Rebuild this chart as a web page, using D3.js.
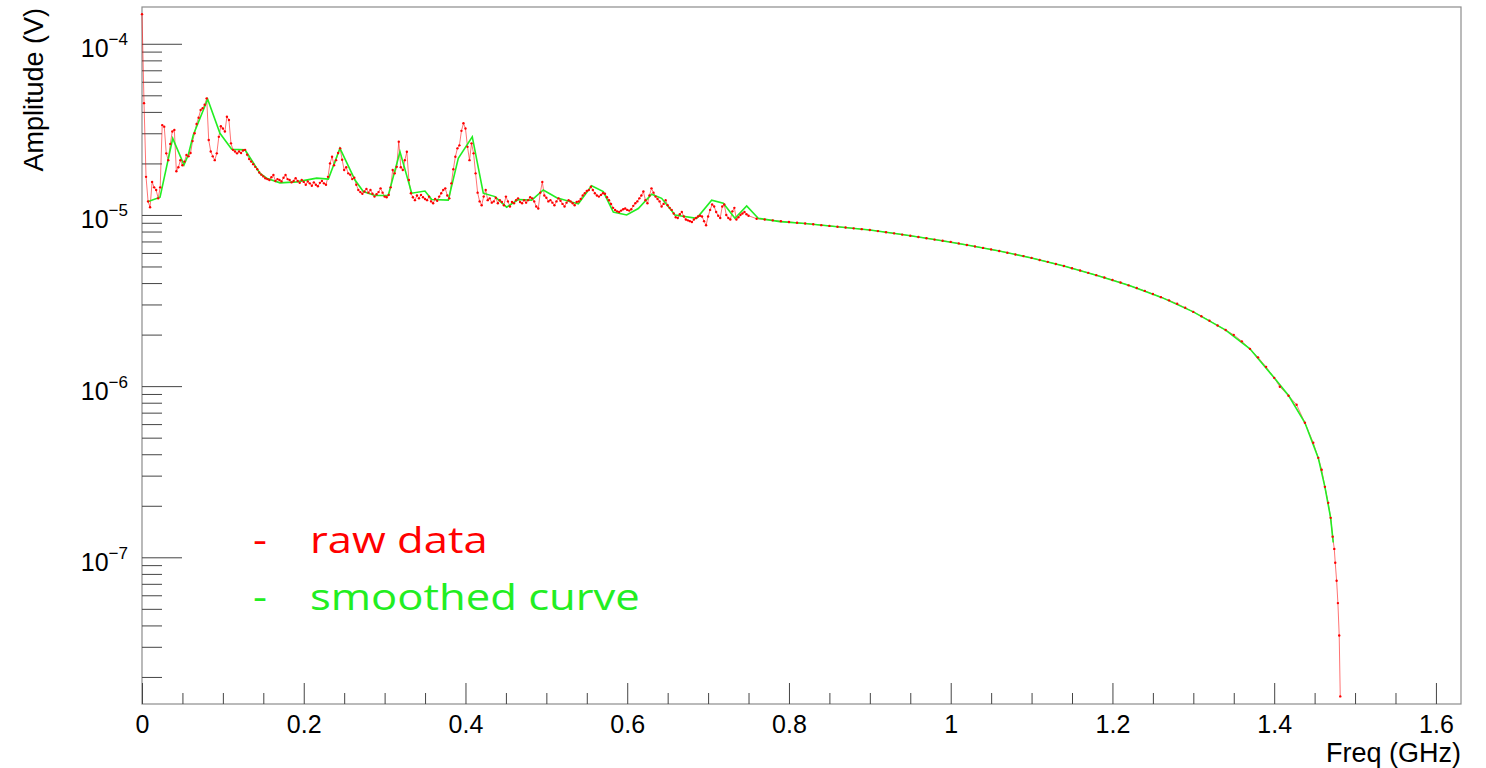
<!DOCTYPE html>
<html>
<head>
<meta charset="utf-8">
<script src="https://cdn.jsdelivr.net/npm/d3@7"></script>
<style>
  html, body { margin: 0; padding: 0; background: #fff; }
  svg { display: block; }
</style>
</head>
<body>
<svg id="chart" width="1486" height="768"></svg>
<script>
// Amplitudes below are given in units of 10 µV.
const AMP_UNIT = 1e-5;

// Raw spectrum, low band: uniform bins starting at 0 GHz.
const rawLowStartGHz = 0;
const rawLowStepGHz = 0.0025;
const rawLowAmp = [
  14.9, 4.5, 1.67, 1.2, 1.11, 1.56, 1.45, 1.40, 1.25, 1.45,
  3.35, 3.28, 2.29, 2.09, 2.6, 3.07, 3.14, 1.8, 1.9, 2.09,
  1.95, 2.05, 2.24, 2.2, 2.3, 2.7, 3.0, 3.4, 3.7, 4.1,
  4.2, 4.4, 4.8, 2.74, 2.35, 2.2, 2.09, 2.29, 2.86, 3.3,
  3.2, 3.07, 3.75, 3.59, 2.62, 2.4, 2.35, 2.29, 2.35, 2.3,
  2.38, 2.4, 2.25, 2.12, 2.05, 1.98, 1.91, 1.85, 1.77, 1.72,
  1.68, 1.64, 1.62, 1.6, 1.66, 1.71, 1.58, 1.62, 1.6, 1.57,
  1.65, 1.71, 1.62, 1.6, 1.55, 1.58, 1.64, 1.58, 1.54, 1.6,
  1.56, 1.5, 1.57, 1.53, 1.48, 1.55, 1.5, 1.47, 1.54, 1.58,
  1.53, 1.5, 1.67, 2.0, 2.19, 1.95, 2.09, 2.3, 2.45, 2.1,
  1.83, 1.9, 1.75, 1.72, 1.62, 1.65, 1.5, 1.4, 1.36, 1.33,
  1.37, 1.42, 1.35, 1.4, 1.33, 1.28, 1.32, 1.36, 1.43, 1.35,
  1.28, 1.27, 1.31, 1.45, 1.83, 1.75, 1.91, 2.68, 1.9, 1.83,
  2.09, 2.34, 1.6, 1.34, 1.27, 1.22, 1.3, 1.25, 1.31, 1.27,
  1.24, 1.22, 1.28, 1.2, 1.17, 1.24, 1.21, 1.28, 1.34, 1.4,
  1.43, 1.3, 1.25, 1.53, 1.85, 2.19, 2.45, 2.55, 3.1, 3.43,
  3.2, 2.5, 2.09, 2.62, 2.29, 1.75, 1.35, 1.2, 1.14, 1.28,
  1.4, 1.22, 1.25, 1.18, 1.2, 1.26, 1.17, 1.22, 1.19, 1.14,
  1.28, 1.2, 1.12, 1.19, 1.17, 1.22, 1.25, 1.19, 1.17, 1.22,
  1.18, 1.22, 1.27, 1.25, 1.2, 1.12, 1.09, 1.35, 1.56, 1.3,
  1.26, 1.2, 1.22, 1.18, 1.14, 1.2, 1.25, 1.21, 1.16, 1.12,
  1.18, 1.22, 1.2, 1.17, 1.14, 1.19, 1.2, 1.24, 1.3, 1.34,
  1.38, 1.4, 1.46, 1.4, 1.34, 1.3, 1.28, 1.31, 1.34, 1.33,
  1.27, 1.22, 1.16, 1.1, 1.07, 1.05, 1.04, 1.06, 1.08, 1.09,
  1.07, 1.06, 1.08, 1.13, 1.17, 1.2, 1.25, 1.3, 1.37, 1.22,
  1.17, 1.3, 1.43, 1.35, 1.28, 1.24, 1.2, 1.12, 1.16, 1.22,
  1.14, 1.1, 1.07, 1.02, 0.97, 0.96, 1.01, 1.04, 0.98, 0.94,
  0.93, 0.92, 0.91, 0.94, 0.96, 0.98, 0.99, 0.98, 0.92, 0.87,
  0.98, 1.07, 1.15, 1.12, 1.04, 0.99, 0.96, 1.12, 1.15, 1.0,
  0.96, 0.94, 1.05, 1.1, 0.94, 0.97, 1.0, 1.02, 1.04, 1.01,
  0.99
];

// Raw spectrum, high band (roll-off), explicit bins.
const rawHighFreq = [
  0.76, 0.77, 0.78, 0.79, 0.80, 0.81, 0.82, 0.83, 0.84, 0.85,
  0.86, 0.87, 0.88, 0.89, 0.90, 0.91, 0.92, 0.93, 0.94, 0.95,
  0.96, 0.97, 0.98, 0.99, 1.00, 1.01, 1.02, 1.03, 1.04, 1.05,
  1.06, 1.07, 1.08, 1.09, 1.10, 1.11, 1.12, 1.13, 1.14, 1.15,
  1.16, 1.17, 1.18, 1.19, 1.20, 1.21, 1.22, 1.23, 1.24, 1.25,
  1.26, 1.27, 1.28, 1.29, 1.30, 1.31, 1.32, 1.33, 1.34, 1.35,
  1.36, 1.37, 1.38, 1.39, 1.40,
  1.407, 1.4177, 1.4277, 1.438, 1.4483, 1.4545, 1.4587, 1.4627,
  1.4668, 1.4698, 1.4723, 1.4743, 1.4755, 1.4772, 1.4788, 1.4804, 1.4817
];
const rawHighAmp = [
  0.950, 0.940, 0.930, 0.920, 0.910, 0.900, 0.891, 0.882, 0.872, 0.863,
  0.853, 0.844, 0.835, 0.826, 0.817, 0.805, 0.793, 0.781, 0.768, 0.756,
  0.744, 0.731, 0.718, 0.707, 0.696, 0.682, 0.668, 0.655, 0.642, 0.629,
  0.616, 0.602, 0.588, 0.575, 0.561, 0.546, 0.532, 0.517, 0.503, 0.488,
  0.474, 0.459, 0.445, 0.431, 0.417, 0.403, 0.388, 0.374, 0.360, 0.345,
  0.331, 0.317, 0.303, 0.287, 0.2715, 0.256, 0.241, 0.226, 0.2126, 0.1993,
  0.1826, 0.1651, 0.1473, 0.1296, 0.1118,
  0.0991, 0.0878, 0.0778, 0.0611, 0.0467, 0.0381, 0.0325, 0.0258,
  0.0208, 0.0170, 0.0132, 0.0112, 0.0093, 0.0073, 0.0054, 0.00349, 0.00154
];

// Smoothed curve vertices.
const smoothFreq = [
  0.0078, 0.0223, 0.038, 0.0519, 0.0572, 0.0634, 0.0812, 0.0964, 0.1109, 0.1274,
  0.1459, 0.1542, 0.1706, 0.1913, 0.216, 0.2304, 0.2448, 0.2634, 0.2736, 0.2881,
  0.3045, 0.319, 0.3335, 0.3499, 0.3582, 0.3787, 0.3911, 0.4084, 0.422, 0.4365,
  0.4509, 0.4653, 0.4819, 0.4962, 0.5128, 0.5395, 0.556, 0.5704, 0.5828, 0.5993,
  0.6137, 0.6302, 0.6426, 0.6591, 0.6859, 0.7044, 0.7188, 0.7332, 0.7477, 0.762,
  0.7889, 0.82, 0.86, 0.90, 0.94, 0.98, 1.02, 1.06, 1.10, 1.14,
  1.18, 1.22, 1.26, 1.30, 1.34, 1.37, 1.40, 1.418, 1.438, 1.4545,
  1.4627, 1.4698, 1.473
];
const smoothAmp = [
  1.2, 1.27, 2.8, 1.96, 2.24, 2.93, 4.74, 3.0, 2.42, 2.4,
  1.75, 1.64, 1.54, 1.56, 1.64, 1.62, 2.45, 1.6, 1.37, 1.30,
  1.30, 2.34, 1.34, 1.38, 1.23, 1.22, 2.14, 2.86, 1.34, 1.28,
  1.11, 1.23, 1.22, 1.4, 1.26, 1.16, 1.48, 1.37, 1.04, 1.0,
  1.09, 1.32, 1.25, 1.0, 0.956, 1.22, 1.17, 0.956, 1.13, 0.956,
  0.914, 0.891, 0.853, 0.817, 0.768, 0.718, 0.668, 0.616, 0.561, 0.503,
  0.445, 0.388, 0.331, 0.2715, 0.2126, 0.1651, 0.1118, 0.0878, 0.0611, 0.0381,
  0.0258, 0.0170, 0.0122
];

// Axis ticks and labels.
const xMajorTicks = [0, 0.2, 0.4, 0.6, 0.8, 1.0, 1.2, 1.4, 1.6];
const xMinorTicks = [0.05, 0.1, 0.15, 0.25, 0.3, 0.35, 0.45, 0.5, 0.55, 0.65, 0.7, 0.75,
                     0.85, 0.9, 0.95, 1.05, 1.1, 1.15, 1.25, 1.3, 1.35, 1.45, 1.5, 1.55];
const xTickLabels = ["0", "0.2", "0.4", "0.6", "0.8", "1", "1.2", "1.4", "1.6"];
const yDecadeExponents = [-7, -6, -5, -4];
const yMinorMantissas = [2, 3, 4, 5, 6, 7, 8, 9];
const xTitle = "Freq (GHz)";
const yTitle = "Amplitude (V)";
const legendLabels = ["raw data", "smoothed curve"];

// ---- layout ----
const frame = { left: 142, right: 1461, top: 7, bottom: 704 };
const RED = "#ff0000";
const GREEN = "#22ee22";
const AXIS_FONT = "'Liberation Sans', Arial, Helvetica, sans-serif";

const svg = d3.select("#chart");

const x = d3.scaleLinear().domain([0, 1.631]).range([frame.left, frame.right]);
const y = d3.scaleLog().domain([1.39e-8, 1.64e-4]).range([frame.bottom, frame.top]);

// Assemble the raw series.
const raw = rawLowAmp.map((a, i) => ({ f: rawLowStartGHz + i * rawLowStepGHz, v: a * AMP_UNIT }))
  .concat(rawHighFreq.map((f, i) => ({ f, v: rawHighAmp[i] * AMP_UNIT })));
const smooth = smoothFreq.map((f, i) => ({ f, v: smoothAmp[i] * AMP_UNIT }));

// Frame
svg.append("rect")
  .attr("x", frame.left).attr("y", frame.top)
  .attr("width", frame.right - frame.left).attr("height", frame.bottom - frame.top)
  .attr("fill", "none").attr("stroke", "#8c8c8c").attr("stroke-width", 1.2);

// X axis: major and minor ticks pointing into the frame
const xAxisMajor = d3.axisBottom(x)
  .tickValues(xMajorTicks)
  .tickSizeInner(-21).tickSizeOuter(0).tickPadding(11)
  .tickFormat((d, i) => xTickLabels[i]);
const gx = svg.append("g").attr("transform", `translate(0,${frame.bottom})`).call(xAxisMajor);
gx.select(".domain").remove();
gx.selectAll("line").attr("stroke", "#444");
gx.selectAll("text").attr("font-family", AXIS_FONT).attr("font-size", 25).attr("fill", "#000");

const xAxisMinor = d3.axisBottom(x).tickValues(xMinorTicks).tickSizeInner(-11).tickSizeOuter(0).tickFormat("");
const gxm = svg.append("g").attr("transform", `translate(0,${frame.bottom})`).call(xAxisMinor);
gxm.select(".domain").remove();
gxm.selectAll("line").attr("stroke", "#444");

// Y axis: decades with superscript labels, minor ticks at 2..9
const yMajorValues = yDecadeExponents.map(e => Math.pow(10, e));
const yMinorValues = [];
[-8, -7, -6, -5, -4].forEach(e => yMinorMantissas.forEach(m => {
  const v = m * Math.pow(10, e);
  if (v > y.domain()[0] && v < y.domain()[1]) yMinorValues.push(v);
}));

const yAxisMajor = d3.axisLeft(y).tickValues(yMajorValues).tickSizeInner(-40).tickSizeOuter(0).tickFormat("");
const gy = svg.append("g").attr("transform", `translate(${frame.left},0)`).call(yAxisMajor);
gy.select(".domain").remove();
gy.selectAll("line").attr("stroke", "#444");
gy.selectAll(".tick").each(function (d, i) {
  const t = d3.select(this).append("text")
    .attr("x", -38).attr("y", 13)
    .attr("text-anchor", "end")
    .attr("font-family", AXIS_FONT).attr("fill", "#000");
  t.append("tspan").attr("font-size", 25).text("10");
  t.append("tspan").attr("font-size", 17).attr("dy", -12).text("\u2212" + Math.abs(yDecadeExponents[i]));
});
gy.selectAll(".tick text").attr("x", null).attr("dy", null)
  .attr("transform", "translate(-14,0)").attr("text-anchor", "end");

const yAxisMinor = d3.axisLeft(y).tickValues(yMinorValues).tickSizeInner(-20).tickSizeOuter(0).tickFormat("");
const gym = svg.append("g").attr("transform", `translate(${frame.left},0)`).call(yAxisMinor);
gym.select(".domain").remove();
gym.selectAll("line").attr("stroke", "#444");

// Axis titles
svg.append("text")
  .attr("x", frame.right).attr("y", 762)
  .attr("text-anchor", "end")
  .attr("font-family", AXIS_FONT).attr("font-size", 27)
  .text(xTitle);
svg.append("text")
  .attr("transform", "translate(43,8) rotate(-90)")
  .attr("text-anchor", "end")
  .attr("font-family", AXIS_FONT).attr("font-size", 27)
  .text(yTitle);

// Data
const plot = svg.append("g");
const line = d3.line().x(d => x(d.f)).y(d => y(d.v));

plot.append("path").datum(raw)
  .attr("d", line).attr("fill", "none")
  .attr("stroke", RED).attr("stroke-width", 1).attr("stroke-opacity", 0.55);

plot.append("path").datum(smooth)
  .attr("d", line).attr("fill", "none")
  .attr("stroke", GREEN).attr("stroke-width", 1.6);

plot.selectAll("circle.raw").data(raw).enter().append("circle")
  .attr("class", "raw")
  .attr("cx", d => x(d.f)).attr("cy", d => y(d.v))
  .attr("r", 1.2).attr("fill", RED);

// Legend: wide sans text, stretched horizontally to a fixed line width
const LEGEND_FONT = "'Open Sans', 'Noto Sans', sans-serif";
const legendX = 253, legendTextX = 310, legendTextWidth = 330;
const legend = svg.append("g").attr("font-family", LEGEND_FONT).attr("font-size", 37);
const rows = [[RED, 553], [GREEN, 610]].map(([c, by], i) => {
  const g = legend.append("g");
  g.append("text").attr("x", 0).attr("y", 0).attr("fill", c).text("-");
  const t = g.append("text").attr("x", legendTextX - legendX).attr("y", 0).attr("fill", c).text(legendLabels[i]);
  return { g, t, by };
});
const widest = d3.max(rows, r => r.t.node().getComputedTextLength());
const sx = legendTextWidth / widest;
rows.forEach(r => {
  r.t.attr("x", (legendTextX - legendX) / sx);
  r.g.attr("transform", `translate(${legendX},${r.by}) scale(${sx},1)`);
});
</script>
</body>
</html>
